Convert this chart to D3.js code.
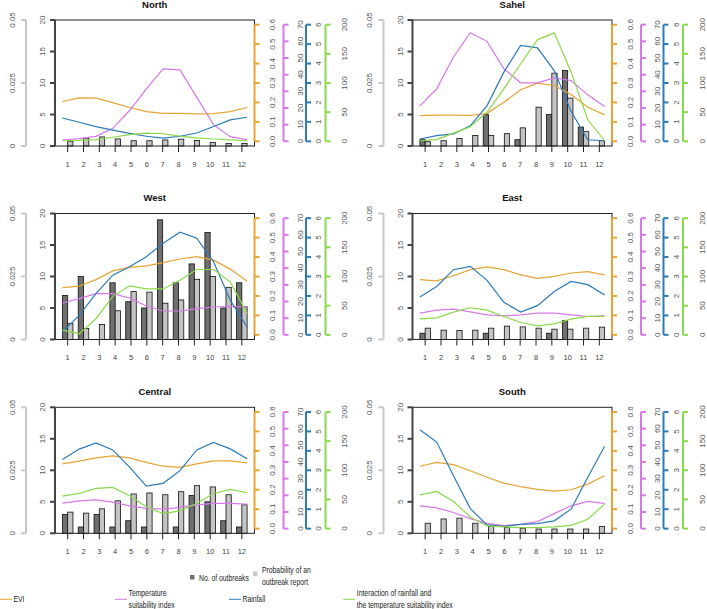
<!DOCTYPE html>
<html>
<head>
<meta charset="utf-8">
<script src="https://cdn.jsdelivr.net/npm/d3@7"></script>
<style>
  body { margin: 0; background: #fff; }
  svg { display: block; font-family: "Liberation Sans", Arial, sans-serif; }
  .tick-label { font-size: 8px; fill: #555; }
  .month-label { font-size: 7.5px; fill: #444; }
  .title { font-size: 9.5px; font-weight: bold; fill: #111; }
  .legend { font-size: 8.3px; fill: #222; }
</style>
</head>
<body>
<div id="chart"></div>
<script>
// data (one row per region, months 1-12)
const regions = ['North', 'Sahel', 'West', 'East', 'Central', 'South'];
const months = [1, 2, 3, 4, 5, 6, 7, 8, 9, 10, 11, 12];

const outbreaks = [
  [0, 0, 0, 0, 0, 0, 0, 0, 0, 0, 0, 0],
  [1, 0, 0, 0, 5, 0, 1, 0, 5, 12, 3, 0],
  [7, 10, 0, 9, 6, 5, 19, 9, 12, 17, 5, 9],
  [1, 0, 0, 0, 1, 0, 0, 0, 1, 3, 0, 0],
  [3, 1, 3, 1, 2, 1, 0, 1, 6, 5, 2, 1],
  [0, 0, 0, 0, 0, 0, 0, 0, 0, 0, 0, 0]
];
const probability = [
  [0.0019, 0.0031, 0.0036, 0.0028, 0.0021, 0.0021, 0.0024, 0.0027, 0.0022, 0.0014, 0.001, 0.001],
  [0.0017, 0.0021, 0.003, 0.0042, 0.0042, 0.0049, 0.0072, 0.0154, 0.0289, 0.019, 0.0057, 0.0021],
  [0.0064, 0.0044, 0.006, 0.0114, 0.019, 0.0188, 0.0144, 0.0157, 0.0239, 0.025, 0.0207, 0.013],
  [0.0045, 0.0037, 0.0036, 0.0037, 0.0045, 0.0053, 0.005, 0.0045, 0.0041, 0.0041, 0.0045, 0.0049],
  [0.0084, 0.008, 0.0097, 0.0129, 0.0156, 0.016, 0.0153, 0.0165, 0.0189, 0.0184, 0.0153, 0.0113],
  [0.004, 0.0057, 0.006, 0.004, 0.0028, 0.0023, 0.002, 0.0017, 0.0017, 0.0017, 0.0017, 0.0027]
];
const evi = [
  [0.205, 0.223, 0.222, 0.199, 0.174, 0.153, 0.144, 0.144, 0.141, 0.143, 0.153, 0.174],
  [0.132, 0.135, 0.135, 0.133, 0.144, 0.201, 0.265, 0.299, 0.287, 0.241, 0.175, 0.136],
  [0.243, 0.25, 0.284, 0.329, 0.347, 0.355, 0.371, 0.39, 0.402, 0.384, 0.338, 0.276],
  [0.284, 0.278, 0.304, 0.335, 0.349, 0.335, 0.308, 0.29, 0.301, 0.318, 0.325, 0.308],
  [0.333, 0.347, 0.364, 0.374, 0.364, 0.341, 0.321, 0.315, 0.333, 0.348, 0.348, 0.338],
  [0.321, 0.341, 0.329, 0.298, 0.264, 0.234, 0.216, 0.202, 0.193, 0.2, 0.229, 0.272]
];
const tempSuit = [
  [0.8, 1.6, 3.0, 7.8, 18.5, 31.5, 43.5, 42.9, 26.5, 10, 2.8, 1.0],
  [21.3, 31.5, 50.6, 65.2, 60.0, 43.5, 35.1, 35.1, 38.1, 36.5, 27.9, 20.9],
  [19.1, 21.7, 24.7, 24.7, 22.1, 17.3, 14.3, 14.3, 15.7, 16.7, 17.1, 16.7],
  [13, 14.8, 15.4, 13.8, 12, 11.4, 12, 13, 13, 12, 11, 11.4],
  [15.3, 16.7, 17.3, 15.9, 13.7, 12.1, 11.7, 12.7, 14.3, 15.1, 15.1, 14.7],
  [13.7, 12.5, 9.7, 6.0, 3.2, 1.8, 2.6, 4.2, 9.0, 13.7, 16.3, 15.1]
];
const rainfall = [
  [1.2, 0.98, 0.76, 0.58, 0.41, 0.26, 0.17, 0.26, 0.43, 0.76, 1.1, 1.24],
  [0.12, 0.29, 0.38, 0.8, 1.84, 3.56, 4.93, 4.81, 3.64, 1.55, 0.08, 0.03],
  [0.14, 1.0, 2.12, 3.07, 3.5, 4.02, 4.71, 5.28, 4.97, 3.76, 1.78, 0.4],
  [1.94, 2.49, 3.35, 3.52, 2.8, 1.67, 1.17, 1.5, 2.23, 2.75, 2.58, 2.05],
  [3.55, 4.09, 4.41, 4.05, 3.16, 2.19, 2.33, 2.98, 4.05, 4.43, 4.1, 3.59],
  [5.09, 4.45, 2.72, 1.03, 0.19, 0.12, 0.22, 0.26, 0.4, 1.0, 2.64, 4.24]
];
const interaction = [
  [1, 1.5, 3, 7, 11.5, 14, 13, 9, 6, 4, 2.5, 1],
  [1, 3, 14, 25, 50, 90, 133, 174, 186, 119, 37, 1],
  [8.6, 1.7, 27.6, 66, 84, 78.7, 78.7, 93.7, 112, 112, 90.8, 36.2],
  [27.5, 29.2, 39, 46.4, 42.4, 31.5, 21.2, 15.5, 18.9, 26.9, 31.5, 31.5],
  [55.7, 60.3, 69, 70.7, 56.3, 37.4, 25.9, 30.5, 43.1, 60.3, 67.2, 61.5],
  [58, 63.8, 46.6, 20.1, 4.6, 2.9, 1.7, 1.7, 2.9, 5.7, 16.1, 42]
];

const outTicks = [0, 5, 10, 15, 20];
const probTicks = [0, 0.025, 0.05];
const eviTicks = [0, 0.1, 0.2, 0.3, 0.4, 0.5, 0.6];
const tempTicks = [0, 10, 20, 30, 40, 50, 60, 70];
const rainTicks = [0, 1, 2, 3, 4, 5, 6];
const interTicks = [0, 50, 100, 150, 200];

const colors = { evi: '#e5a435', temp: '#d678e8', rain: '#2c7bb6', inter: '#8bd94a' };

const width = 707;
const height = 609;
const colX = [55, 412.5];
const rowY = [20, 213.5, 407.3];
const W = 199.5;
const H = 126;

const svg = d3.select('#chart').append('svg')
  .attr('width', width)
  .attr('height', height);

svg.append('rect').attr('width', width).attr('height', height).attr('fill', '#fff');

// R style padded domain (4% each side)
const padded = (max) => [-0.04 * max, 1.04 * max];

// a vertical axis: line from first to last tick, ticks pointing dir (-1 left, +1 right)
function vAxis(g, scale, ticks, x, dir, color, lw, labelX, fmt) {
  const a = g.append('g');
  a.append('line')
    .attr('x1', x).attr('x2', x)
    .attr('y1', scale(ticks[0])).attr('y2', scale(ticks[ticks.length - 1]))
    .attr('stroke', color).attr('stroke-width', lw);
  a.selectAll('line.tk').data(ticks).enter().append('line')
    .attr('class', 'tk')
    .attr('x1', x).attr('x2', x + dir * 5)
    .attr('y1', (d) => scale(d)).attr('y2', (d) => scale(d))
    .attr('stroke', color).attr('stroke-width', lw);
  a.selectAll('text').data(ticks).enter().append('text')
    .attr('class', 'tick-label')
    .attr('text-anchor', 'middle')
    .attr('dy', '0.35em')
    .attr('transform', (d) => `translate(${labelX},${scale(d)}) rotate(-90)`)
    .text((d) => fmt(d));
}

regions.forEach((name, i) => {
  const g = svg.append('g')
    .attr('transform', `translate(${colX[i % 2]},${rowY[Math.floor(i / 2)]})`);

  const xBar = d3.scaleLinear().domain([0.2, 12.8]).range([0, W]);
  const xLine = d3.scaleLinear().domain([0.56, 12.44]).range([0, W]);
  const yOut = d3.scaleLinear().domain([0, 20]).range([H, 0]);
  const yProb = d3.scaleLinear().domain([0, 0.05]).range([H, 0]);
  const yEvi = d3.scaleLinear().domain(padded(0.6)).range([H, 0]);
  const yTemp = d3.scaleLinear().domain(padded(70)).range([H, 0]);
  const yRain = d3.scaleLinear().domain(padded(6)).range([H, 0]);
  const yInter = d3.scaleLinear().domain(padded(200)).range([H, 0]);
  const bw = (xBar(1) - xBar(0)) / 3;

  // title
  g.append('text').attr('class', 'title')
    .attr('x', W / 2).attr('y', -12.5)
    .attr('text-anchor', 'middle')
    .text(name);

  // bars
  g.append('g').selectAll('rect')
    .data(months)
    .enter()
    .append('rect')
    .attr('x', (m) => xBar(m) - bw)
    .attr('y', (m, j) => yOut(outbreaks[i][j]))
    .attr('width', bw)
    .attr('height', (m, j) => H - yOut(outbreaks[i][j]))
    .attr('fill', '#6f6f6f')
    .attr('stroke', '#111')
    .attr('stroke-width', 0.8);

  g.append('g').selectAll('rect')
    .data(months)
    .enter()
    .append('rect')
    .attr('x', (m) => xBar(m))
    .attr('y', (m, j) => yProb(probability[i][j]))
    .attr('width', bw)
    .attr('height', (m, j) => H - yProb(probability[i][j]))
    .attr('fill', '#c4c4c4')
    .attr('stroke', '#111')
    .attr('stroke-width', 0.8);

  // lines
  const series = [
    [evi[i], yEvi, colors.evi],
    [tempSuit[i], yTemp, colors.temp],
    [rainfall[i], yRain, colors.rain],
    [interaction[i], yInter, colors.inter]
  ];
  series.forEach(([vals, ys, col]) => {
    const line = d3.line().x((m) => xLine(m)).y((m, j) => ys(vals[j]));
    g.append('path')
      .datum(months)
      .attr('d', line)
      .attr('fill', 'none')
      .attr('stroke', col)
      .attr('stroke-width', 1.2);
  });

  // box
  g.append('rect')
    .attr('width', W).attr('height', H)
    .attr('fill', 'none')
    .attr('stroke', '#222')
    .attr('stroke-width', 1);

  // x ticks and month labels
  g.append('g').selectAll('line')
    .data(months)
    .enter()
    .append('line')
    .attr('x1', (m) => xBar(m)).attr('x2', (m) => xBar(m))
    .attr('y1', H).attr('y2', H + 6)
    .attr('stroke', '#222');
  g.append('g').selectAll('text')
    .data(months)
    .enter()
    .append('text')
    .attr('class', 'month-label')
    .attr('x', (m) => xBar(m))
    .attr('y', H + 20.5)
    .attr('text-anchor', 'middle')
    .text((m) => m);

  // left axes
  vAxis(g, yOut, outTicks, 0, -1, '#444', 2, -12.5, (d) => d);
  vAxis(g, yProb, probTicks, -29, -1, '#c8c8c8', 2, -43, (d) => d);

  // right axes
  vAxis(g, yEvi, eviTicks, W, 1, colors.evi, 2, W + 18, d3.format('.1f'));
  vAxis(g, yTemp, tempTicks, W + 29, 1, colors.temp, 2, W + 45.5, (d) => d);
  vAxis(g, yRain, rainTicks, W + 51.5, 1, colors.rain, 2, W + 64, (d) => d);
  vAxis(g, yInter, interTicks, W + 71, 1, colors.inter, 2, W + 90, (d) => d);
});

/* ---------- legend ---------- */
const legend = svg.append('g');
const narrow = (x, y) => `translate(${x},${y}) scale(0.82,1)`;

legend.append('rect').attr('x', 190).attr('y', 575).attr('width', 4.5).attr('height', 4.5).attr('fill', '#707070');
legend.append('text').attr('class', 'legend').attr('transform', narrow(199, 580.5)).text('No. of outbreaks');
legend.append('rect').attr('x', 253).attr('y', 571.5).attr('width', 4.5).attr('height', 4.5).attr('fill', '#c8c8c8');
legend.append('text').attr('class', 'legend').attr('transform', narrow(262, 573)).text('Probability of an');
legend.append('text').attr('class', 'legend').attr('transform', narrow(262, 585)).text('outbreak report');

const lineItems = [
  { x: 0, col: colors.evi, text: ['EVI'] },
  { x: 115, col: colors.temp, text: ['Temperature', 'suitability index'] },
  { x: 229, col: colors.rain, text: ['Rainfall'] },
  { x: 343.3, col: colors.inter, text: ['Interaction of rainfall and', 'the temperature suitability index'] }
];
lineItems.forEach((it) => {
  legend.append('line')
    .attr('x1', it.x).attr('x2', it.x + 12)
    .attr('y1', 599.3).attr('y2', 599.3)
    .attr('stroke', it.col).attr('stroke-width', 1);
  it.text.forEach((t, k) => {
    const y = it.text.length === 1 ? 601.5 : 596 + k * 12;
    legend.append('text').attr('class', 'legend')
      .attr('transform', narrow(it.x + 13.5, y))
      .text(t);
  });
});
</script>
</body>
</html>
